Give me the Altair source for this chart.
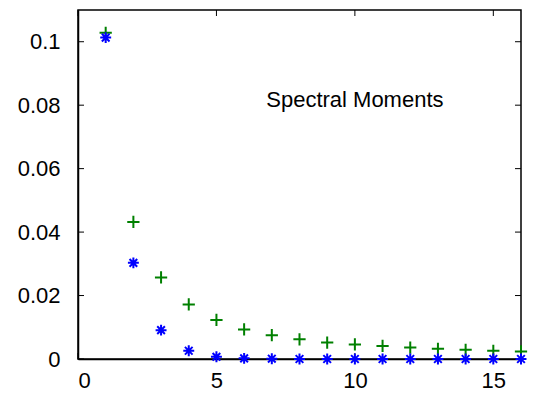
import altair as alt
import pandas as pd

orders = list(range(1, 17))
green_vals = [0.1028, 0.0432, 0.0257, 0.0172, 0.0123, 0.0093, 0.0075, 0.0062,
              0.0052, 0.0046, 0.0041, 0.0036, 0.0032, 0.0029, 0.0026, 0.0024]
blue_vals = [0.1013, 0.0303, 0.0091, 0.0026, 0.0007, 0.0002, 0.0001, 0.0,
             0.0, 0.0, 0.0, 0.0, 0.0, 0.0, 0.0, 0.0]
x_ticks = [0, 5, 10, 15]
y_ticks = [0, 0.02, 0.04, 0.06, 0.08, 0.1]
label_text = "Spectral Moments"
label_pos = (10, 0.0815)

W, H = 443, 349
df = pd.DataFrame({"n": orders, "g": green_vals, "b": blue_vals})

xs = alt.Scale(domain=[0, 16], nice=False, zero=False)
ys = alt.Scale(domain=[0, 0.11], nice=False, zero=False)

xax = alt.Axis(values=x_ticks, ticks=False, grid=False, labelFontSize=22,
               labelPadding=11, labelColor="black", domainColor="black",
               labelFont="Liberation Sans", title=None, format="d")
yax = alt.Axis(values=y_ticks, ticks=False, grid=False, labelFontSize=22,
               labelPadding=18, labelColor="black", domainColor="black",
               labelFont="Liberation Sans", title=None, format="~g")

plus = "M-1,0L1,0M0,-1L0,1"
star = "M-1,0L1,0M0,-1L0,1M-0.7,-0.7L0.7,0.7M-0.7,0.7L0.7,-0.7"

green = alt.Chart(df).mark_point(shape=plus, size=150, strokeWidth=2,
                                 color="#008000", filled=False, opacity=1).encode(
    x=alt.X("n:Q", scale=xs, axis=xax),
    y=alt.Y("g:Q", scale=ys, axis=yax),
)
blue = alt.Chart(df).mark_point(shape=star, size=120, strokeWidth=2,
                                color="#0000ff", filled=False, opacity=1).encode(
    x=alt.X("n:Q", scale=xs),
    y=alt.Y("b:Q", scale=ys),
)

ydf = pd.DataFrame({"v": y_ticks})
xdf = pd.DataFrame({"v": x_ticks})
tl = 6
ytl = alt.Chart(ydf).mark_rule(color="black", strokeWidth=1).encode(
    y=alt.Y("v:Q", scale=ys), x=alt.value(0), x2=alt.value(tl))
ytr = alt.Chart(ydf).mark_rule(color="black", strokeWidth=1).encode(
    y=alt.Y("v:Q", scale=ys), x=alt.value(W - tl), x2=alt.value(W))
xtb = alt.Chart(xdf).mark_rule(color="black", strokeWidth=1).encode(
    x=alt.X("v:Q", scale=xs), y=alt.value(H - tl), y2=alt.value(H))
xtt = alt.Chart(xdf).mark_rule(color="black", strokeWidth=1).encode(
    x=alt.X("v:Q", scale=xs), y=alt.value(0), y2=alt.value(tl))

tdf = pd.DataFrame({"x": [label_pos[0]], "y": [label_pos[1]], "t": [label_text]})
txt = alt.Chart(tdf).mark_text(fontSize=22, font="Liberation Sans", color="black",
                               align="center", baseline="middle").encode(
    x=alt.X("x:Q", scale=xs), y=alt.Y("y:Q", scale=ys), text="t:N")

chart = alt.layer(ytl, ytr, xtb, xtt, green, blue, txt).properties(
    width=W, height=H,
    autosize=alt.AutoSizeParams(type="none"),
    padding={"left": 78, "top": 10, "right": 13, "bottom": 45},
).configure_view(stroke="black", strokeWidth=1.5).configure_axis(domainWidth=1.5)

chart.save("out.html", embed_options={"renderer": "svg", "actions": False})
